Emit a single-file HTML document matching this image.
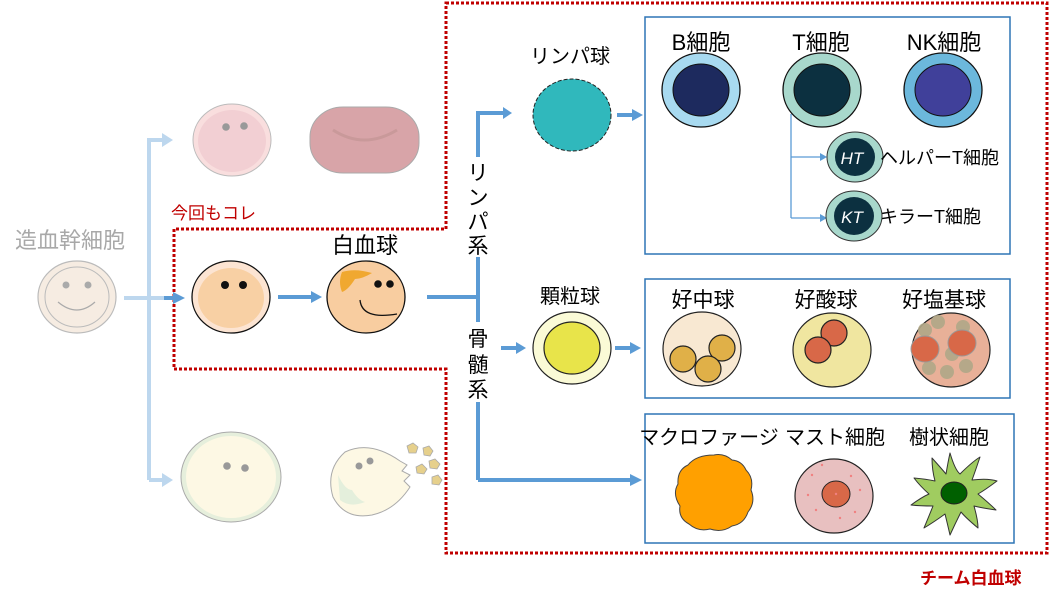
<!DOCTYPE html>
<html><head><meta charset="utf-8"><style>
html,body{margin:0;padding:0;background:#fff;}
svg{display:block;font-family:"Liberation Sans","Noto Sans CJK JP",sans-serif;}
</style></head><body>
<svg width="1050" height="601" viewBox="0 0 1050 601" xmlns="http://www.w3.org/2000/svg">

<!-- red dotted team border -->
<path d="M446,3 H1047 V553 H446 V369 H174 V229 H446 Z" fill="none" stroke="#c00000" stroke-width="3" stroke-dasharray="3,2"/>
<text x="920" y="584" font-size="17" font-weight="bold" fill="#c00000">チーム白血球</text>
<text x="171" y="219" font-size="17" fill="#c00000">今回もコレ</text>

<!-- stem cell -->
<text x="15" y="248" font-size="22" fill="#a8a8a8">造血幹細胞</text>
<ellipse cx="77" cy="297" rx="39" ry="36" fill="#f6ece2" stroke="#bbb" stroke-width="1.2"/>
<ellipse cx="77" cy="297" rx="32" ry="30" fill="none" stroke="#bbb" stroke-width="1"/>
<circle cx="66" cy="285" r="3.5" fill="#aaa"/><circle cx="88" cy="285" r="3.5" fill="#aaa"/>
<path d="M58,302 Q77,318 95,302" fill="none" stroke="#aaa" stroke-width="1.2"/>

<!-- light blue branches -->
<path d="M124,298 H164" stroke="#bdd7ee" stroke-width="4"/>
<path d="M149,480 V140 H165" fill="none" stroke="#bdd7ee" stroke-width="4"/>
<path d="M149,480 H165" fill="none" stroke="#bdd7ee" stroke-width="4"/>
<path d="M162,133 L173,140 L162,147 z M162,473 L173,480 L162,487 z" fill="#bdd7ee"/>
<path d="M164,298 H176" stroke="#5b9bd5" stroke-width="4"/>
<path d="M173,292 L185,298 L173,304 z" fill="#5b9bd5"/>

<!-- red lineage -->
<ellipse cx="232" cy="140" rx="39" ry="36" fill="#f9dede" stroke="#bbb"/>
<ellipse cx="232" cy="141" rx="34" ry="31" fill="#f2cfd3"/>
<circle cx="226" cy="127" r="3.8" fill="#999"/><circle cx="244" cy="126" r="3.8" fill="#999"/>
<rect x="310" y="107" width="109" height="66" rx="33" ry="30" fill="#d8a4a8" stroke="#aaa"/>
<path d="M333,130 Q364,150 397,130" fill="none" stroke="#c9999a" stroke-width="3"/>

<!-- white lineage -->
<ellipse cx="231" cy="297" rx="39" ry="36" fill="#fce4d2" stroke="#111" stroke-width="1.3"/>
<ellipse cx="231" cy="298" rx="33" ry="30" fill="#f8d0a4"/>
<circle cx="225" cy="285" r="4" fill="#111"/><circle cx="243" cy="285" r="4" fill="#111"/>
<path d="M278,297 H314" stroke="#5b9bd5" stroke-width="4"/>
<path d="M311,291 L322,297 L311,303 z" fill="#5b9bd5"/>
<text x="332" y="253" font-size="22" fill="#000">白血球</text>
<ellipse cx="366" cy="297" rx="39" ry="36" fill="#f8cda0" stroke="#111" stroke-width="1.3"/>
<path d="M342,272 Q355,268 372,273 Q362,279 355,279 Q348,290 342,292 Q338,282 342,272 z" fill="#f0a830"/>
<circle cx="378" cy="284" r="3.8" fill="#111"/><circle cx="390" cy="284" r="3.8" fill="#111"/>
<path d="M360,300 Q362,320 397,314" fill="none" stroke="#111" stroke-width="1.3"/>

<!-- platelet lineage -->
<ellipse cx="231" cy="477" rx="50" ry="45" fill="#e6efdc" stroke="#aaa"/>
<ellipse cx="231" cy="477" rx="45" ry="41" fill="#fdf8e4"/>
<circle cx="227" cy="466" r="3.8" fill="#999"/><circle cx="245" cy="468" r="3.8" fill="#999"/>
<path d="M400,461 Q370,440 345,452 Q325,470 333,497 Q345,520 372,515 Q395,510 410,487 L404,481 L410,475 L402,471 L407,465 Z" fill="#fdf8e4" stroke="#aaa"/>
<path d="M338,475 Q345,490 352,490 Q358,500 365,502 Q350,508 340,500 Z" fill="#e4efdc"/>
<circle cx="359" cy="466" r="3.5" fill="#999"/><circle cx="370" cy="461" r="3.5" fill="#999"/>
<g fill="#e6d08c" stroke="#aaa" stroke-width="0.8">
<polygon points="407,446 413,443 418,447 416,453 409,453"/>
<polygon points="423,448 429,446 433,451 430,456 424,455"/>
<polygon points="429,461 435,459 440,464 437,469 430,468"/>
<polygon points="416,467 422,464 427,469 424,474 417,473"/>
<polygon points="432,477 438,475 442,480 439,485 432,484"/>
</g>

<!-- main blue connector -->
<path d="M427,297 H478" stroke="#5b9bd5" stroke-width="4"/>
<path d="M478,480 V113 H505" fill="none" stroke="#5b9bd5" stroke-width="4"/>
<path d="M503,107 L512,113 L503,119 z" fill="#5b9bd5"/>
<path d="M478,480 H632" fill="none" stroke="#5b9bd5" stroke-width="4"/>
<path d="M630,474 L642,480 L630,486 z" fill="#5b9bd5"/>
<rect x="466" y="157" width="24" height="100" fill="#fff"/>
<rect x="466" y="322" width="24" height="80" fill="#fff"/>
<g font-size="21" fill="#000" text-anchor="middle">
<text x="478" y="180">リ</text><text x="478" y="205">ン</text><text x="478" y="229">パ</text><text x="478" y="253">系</text>
<text x="478" y="346">骨</text><text x="478" y="372">髄</text><text x="478" y="397">系</text>
</g>
<path d="M501,348 H518" stroke="#5b9bd5" stroke-width="4"/>
<path d="M516,342 L526,348 L516,354 z" fill="#5b9bd5"/>

<!-- lymphocyte -->
<text x="570" y="63" font-size="20" text-anchor="middle">リンパ球</text>
<ellipse cx="572" cy="115" rx="39" ry="36" fill="#30b8bc" stroke="#222" stroke-width="1" stroke-dasharray="4,2"/>
<path d="M617,115 H634" stroke="#5b9bd5" stroke-width="4"/>
<path d="M632,109 L643,115 L632,121 z" fill="#5b9bd5"/>

<!-- granulocyte -->
<text x="570" y="303" font-size="20" text-anchor="middle">顆粒球</text>
<ellipse cx="572" cy="348" rx="39" ry="36" fill="#fafad6" stroke="#222" stroke-width="1.2"/>
<ellipse cx="572" cy="348" rx="28" ry="26" fill="#e8e44a" stroke="#222" stroke-width="1.2"/>
<path d="M615,348 H632" stroke="#5b9bd5" stroke-width="4"/>
<path d="M630,342 L641,348 L630,354 z" fill="#5b9bd5"/>

<!-- box 1 -->
<rect x="645" y="17" width="365" height="237" fill="none" stroke="#2e75b6" stroke-width="1.5"/>
<g font-size="22" text-anchor="middle">
<text x="701" y="50">B細胞</text><text x="821" y="50">T細胞</text><text x="944" y="50">NK細胞</text>
</g>
<ellipse cx="701" cy="90" rx="39" ry="37" fill="#a8daf0" stroke="#111" stroke-width="1.3"/>
<ellipse cx="701" cy="90" rx="28" ry="26" fill="#1d2a5e" stroke="#111"/>
<ellipse cx="822" cy="90" rx="39" ry="37" fill="#a8d8cc" stroke="#111" stroke-width="1.3"/>
<ellipse cx="822" cy="90" rx="28" ry="26" fill="#0c3040" stroke="#111"/>
<ellipse cx="943" cy="90" rx="39" ry="37" fill="#6cb8dc" stroke="#111" stroke-width="1.3"/>
<ellipse cx="943" cy="90" rx="28" ry="26" fill="#40409a" stroke="#111"/>
<path d="M791,114 V218 M791,157 H822 M791,218 H822" fill="none" stroke="#5b9bd5" stroke-width="1.3"/>
<path d="M820,153 L827,157 L820,161 z M820,214 L827,218 L820,222 z" fill="#5b9bd5"/>
<ellipse cx="855" cy="157" rx="28" ry="25" fill="#a8d8cc" stroke="#333"/>
<ellipse cx="855" cy="157" rx="20" ry="19" fill="#0c3040"/>
<text x="852" y="164" font-size="17" font-style="italic" fill="#fff" text-anchor="middle">HT</text>
<text x="880" y="164" font-size="18">ヘルパーT細胞</text>
<ellipse cx="854" cy="216" rx="28" ry="25" fill="#a8d8cc" stroke="#333"/>
<ellipse cx="854" cy="216" rx="20" ry="19" fill="#0c3040"/>
<text x="852" y="223" font-size="17" font-style="italic" fill="#fff" text-anchor="middle">KT</text>
<text x="880" y="223" font-size="18">キラーT細胞</text>

<!-- box 2 -->
<rect x="645" y="279" width="365" height="119" fill="none" stroke="#2e75b6" stroke-width="1.5"/>
<g font-size="21" text-anchor="middle">
<text x="703" y="307">好中球</text><text x="826" y="307">好酸球</text><text x="944" y="307">好塩基球</text>
</g>
<ellipse cx="702" cy="349" rx="39" ry="37" fill="#f8e8d2" stroke="#222" stroke-width="1.2"/>
<g fill="#e0b048" stroke="#222" stroke-width="1.2">
<circle cx="683" cy="359" r="13"/><circle cx="722" cy="348" r="13"/><circle cx="708" cy="369" r="13"/>
</g>
<ellipse cx="832" cy="350" rx="39" ry="37" fill="#f0e6a0" stroke="#222" stroke-width="1.2"/>
<g fill="#d86848" stroke="#222" stroke-width="1.2">
<circle cx="834" cy="333" r="13"/><circle cx="818" cy="350" r="13"/>
</g>
<ellipse cx="951" cy="350" rx="39" ry="37" fill="#e8b098" stroke="#222" stroke-width="1.2"/>
<g fill="#b0a888" opacity="0.9">
<circle cx="938" cy="322" r="7"/><circle cx="925" cy="330" r="7"/><circle cx="963" cy="327" r="7"/><circle cx="952" cy="354" r="7"/><circle cx="929" cy="368" r="7"/><circle cx="947" cy="372" r="7"/><circle cx="966" cy="366" r="7"/>
</g>
<ellipse cx="925" cy="349" rx="14" ry="13" fill="#d86848" stroke="#999"/>
<ellipse cx="962" cy="343" rx="14" ry="13" fill="#d86848" stroke="#999"/>

<!-- box 3 -->
<rect x="645" y="414" width="369" height="129" fill="none" stroke="#2e75b6" stroke-width="1.5"/>
<g font-size="20" text-anchor="middle">
<text x="709" y="444">マクロファージ</text><text x="835" y="444">マスト細胞</text><text x="949" y="444">樹状細胞</text>
</g>
<path d="M714,455 Q724,453 732,460 Q742,461 746,470 Q754,478 751,490 Q756,502 748,512 Q744,524 732,526 Q722,533 710,529 Q698,532 689,524 Q678,518 680,506 Q672,494 678,484 Q677,470 688,465 Q696,455 714,455 z" fill="#ffa000" stroke="#444"/>
<ellipse cx="834" cy="496" rx="39" ry="37" fill="#e8c0c0" stroke="#222" stroke-width="1.2"/>
<ellipse cx="836" cy="494" rx="14" ry="13" fill="#d86848" stroke="#222"/>
<g fill="#f08080">
<circle cx="812" cy="475" r="1.2"/><circle cx="851" cy="476" r="1.2"/><circle cx="822" cy="465" r="1.2"/><circle cx="816" cy="510" r="1.2"/><circle cx="855" cy="512" r="1.2"/><circle cx="860" cy="490" r="1.2"/><circle cx="808" cy="495" r="1.2"/><circle cx="840" cy="518" r="1.2"/><circle cx="836" cy="494" r="1.2"/>
</g>
<path d="M950,453 Q955,470 960,474 Q972,462 980,457 Q975,472 972,480 Q988,478 997,481 Q985,490 978,494 Q990,504 996,510 Q982,508 974,506 Q978,520 978,528 Q966,518 961,512 Q955,524 950,535 Q947,522 945,514 Q934,522 924,528 Q929,516 933,506 Q920,506 911,505 Q922,497 929,494 Q920,486 914,478 Q926,479 935,481 Q932,470 932,458 Q941,468 946,474 Q948,462 950,453 Z" fill="#a0cc60" stroke="#333" stroke-linejoin="round"/>
<ellipse cx="954" cy="493" rx="13" ry="11" fill="#006000" stroke="#222"/>
</svg>
</body></html>
